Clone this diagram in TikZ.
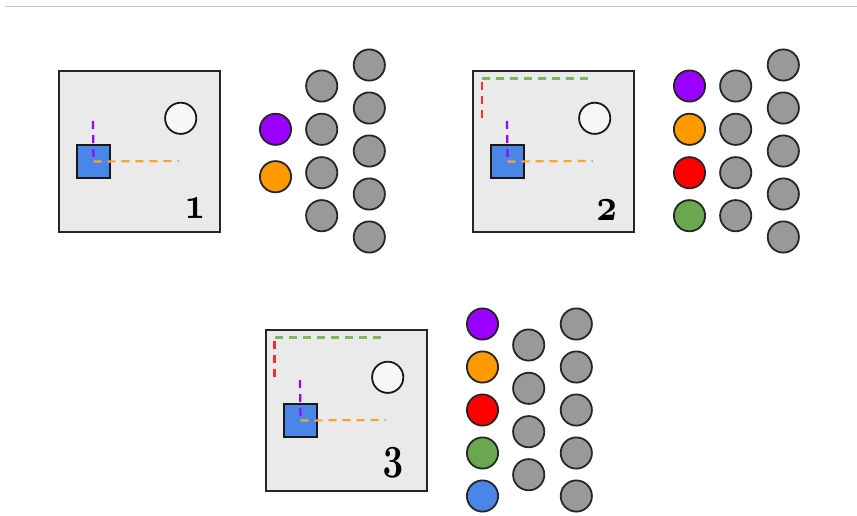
\documentclass[tikz,border=0pt]{standalone}
\definecolor{boxgray}{HTML}{EAEAEA}
\definecolor{agentblue}{HTML}{4A86E8}
\definecolor{cpurple}{HTML}{9900FF}
\definecolor{corange}{HTML}{FF9900}
\definecolor{cred}{HTML}{FF0000}
\definecolor{cgreen}{HTML}{6AA84F}
\definecolor{cgray}{HTML}{999999}
\definecolor{dorange}{HTML}{F6A531}
\definecolor{dgreen}{HTML}{7EB65F}
\definecolor{dred}{HTML}{FF2A2A}
\definecolor{rulegray}{HTML}{C8C8C8}
\font\osnum=cmmib10 at 46pt
\tikzset{
  panelbox/.style={draw=black!85, fill=boxgray, line width=2pt, minimum size=161pt, inner sep=0pt},
  agent/.style={draw=black!90, fill=agentblue, line width=1.8pt, minimum size=33pt, inner sep=0pt},
  goal/.style={circle, draw=black!90, fill=black!3, line width=1.8pt, minimum size=31.2pt, inner sep=0pt},
  token/.style={circle, draw=black!85, line width=1.8pt, minimum size=31.2pt, inner sep=0pt},
  graytoken/.style={token, fill=cgray},
  dashline/.style={line width=2.2pt, dash pattern=on 8pt off 6pt},
  numlabel/.style={anchor=base, inner sep=0pt, font=\osnum, xscale=0.78, transform shape}
}
\begin{document}
\begin{tikzpicture}[x=1pt,y=-1pt]
\useasboundingbox (0,0) rectangle (857,515);
\coordinate (ruleL) at (5,6.5);
\coordinate (ruleR) at (857,6.5);
\draw[rulegray, line width=1.2pt] (ruleL) -- (ruleR);

% ---------- Panel 1 ----------
\begin{scope}[shift={(0,0)}]
\node[panelbox] (b1) at (139.5,151.5) {};
\node[goal] (g1) at (180.7,118.3) {};
\node[agent] (a1) at (93.5,161.5) {};
\coordinate (p1) at (93,121);
\coordinate (o1) at (179,161);
\draw[dashline, cpurple] (p1) -- (a1.center);
\draw[dashline, dorange] (a1.center) -- (o1);
\node[numlabel] (l1) at (195,218) {1};
\node[token, fill=cpurple] (c1a) at (275.5,129.3) {};
\node[token, fill=corange] (c1b) at (275.5,176.7) {};
\foreach \y [count=\i] in {86,129.3,172.7,215.7} \node[graytoken] (m1\i) at (321.7,\y) {};
\foreach \y [count=\i] in {65,108,151,194,237} \node[graytoken] (r1\i) at (369.3,\y) {};
\end{scope}

% ---------- Panel 2 ----------
\begin{scope}[shift={(414,0)}]
\node[panelbox] (b2) at (139.5,151.5) {};
\node[goal] (g2) at (180.7,118.3) {};
\node[agent] (a2) at (93.5,161.5) {};
\coordinate (p2) at (93,121);
\coordinate (o2) at (179,161);
\coordinate (rs2) at (67.7,118);
\coordinate (cr2) at (67.7,78.5);
\coordinate (ge2) at (179,78.5);
\draw[dashline, dred] (rs2) -- (cr2);
\draw[dashline, dgreen] (cr2) -- (ge2);
\draw[dashline, cpurple] (p2) -- (a2.center);
\draw[dashline, dorange] (a2.center) -- (o2);
\node[numlabel] (l2) at (192.7,220) {2};
\foreach \y/\c [count=\i] in {86/cpurple,129.3/corange,172.7/cred,215.7/cgreen} \node[token, fill=\c] (c2\i) at (275.5,\y) {};
\foreach \y [count=\i] in {86,129.3,172.7,215.7} \node[graytoken] (m2\i) at (321.7,\y) {};
\foreach \y [count=\i] in {65,108,151,194,237} \node[graytoken] (r2\i) at (369.3,\y) {};
\end{scope}

% ---------- Panel 3 ----------
\begin{scope}[shift={(207,259)}]
\node[panelbox] (b3) at (139.5,151.5) {};
\node[goal] (g3) at (180.7,118.3) {};
\node[agent] (a3) at (93.5,161.5) {};
\coordinate (p3) at (93,121);
\coordinate (o3) at (179,161);
\coordinate (rs3) at (67.5,118);
\coordinate (cr3) at (67.5,78.5);
\coordinate (ge3) at (179,78.5);
\draw[dashline, dred] (rs3) -- (cr3);
\draw[dashline, dgreen] (cr3) -- (ge3);
\draw[dashline, cpurple] (p3) -- (a3.center);
\draw[dashline, dorange] (a3.center) -- (o3);
\node[numlabel] (l3) at (186,209) {3};
\foreach \y/\c [count=\i] in {65/cpurple,108/corange,151/cred,194/cgreen,237/agentblue} \node[token, fill=\c] (c3\i) at (275.5,\y) {};
\foreach \y [count=\i] in {86,129.3,172.7,215.7} \node[graytoken] (m3\i) at (321.7,\y) {};
\foreach \y [count=\i] in {65,108,151,194,237} \node[graytoken] (r3\i) at (369.3,\y) {};
\end{scope}
\end{tikzpicture}
\end{document}
